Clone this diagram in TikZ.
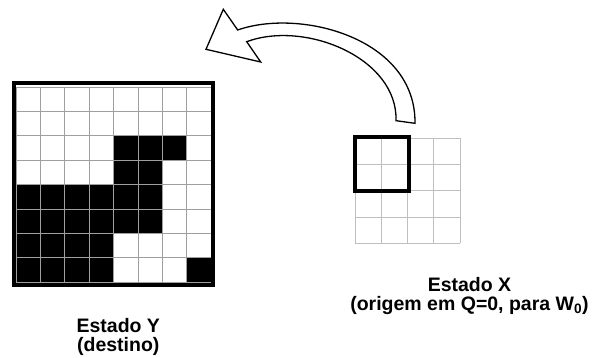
\documentclass[tikz,border=0pt]{standalone}
\usepackage{fontspec}
\setmainfont{Liberation Sans}
\usetikzlibrary{positioning}

\tikzset{
  cellY/.style={draw=gray!75,line width=0.9pt},
  cellX/.style={draw=gray!50,line width=0.9pt},
  frame/.style={draw=black,line width=4pt,inner sep=0pt},
  statetxt/.style={font=\bfseries\fontsize{19.5}{18.8}\selectfont,align=center,inner sep=0pt},
  bigarrow/.style={draw=black,fill=white,line width=1.3pt,line join=miter}
}

\begin{document}
\begin{tikzpicture}[x=1pt,y=-1pt]
\useasboundingbox (0,0) rectangle (592,358);

% Estado Y: 8x8
\foreach \c/\r in {4/2,5/2,6/2,4/3,5/3,0/4,1/4,2/4,3/4,4/4,5/4,0/5,1/5,2/5,3/5,4/5,5/5,0/6,1/6,2/6,3/6,0/7,1/7,2/7,3/7,7/7}
  \fill[black] ({16+24.4*\c},{87+24.4*\r}) rectangle +(24.4,24.4);
\foreach \i in {0,...,8} {
  \draw[cellY] ({16+24.4*\i},87) -- ({16+24.4*\i},282.2);
  \draw[cellY] (16,{87+24.4*\i}) -- (211.2,{87+24.4*\i});
}
\node[frame,minimum width=199pt,minimum height=202pt] (gridY) at (113.5,184) {};

% Estado X: 4x4
\foreach \i in {0,...,4} {
  \draw[cellX] ({355+26.25*\i},138.3) -- ({355+26.25*\i},243.3);
  \draw[cellX] (355,{138.3+26.25*\i}) -- (460,{138.3+26.25*\i});
}
\node[frame,minimum width=54pt,minimum height=54pt] (winX) at (381.6,164) {};

% seta
\coordinate (tip) at (206,49.3);
\coordinate (wingA) at (223.3,9.3);
\coordinate (wingB) at (260.7,62);
\coordinate (outA) at (237.7,30);
\coordinate (inA) at (246.7,41.7);
\coordinate (outB) at (415,123.3);
\coordinate (inB) at (396,120.7);
\draw[bigarrow] (tip) -- (wingA) -- (outA) .. controls (300,8) and (416,38) .. (outB)
  -- (inB) .. controls (398,58) and (305,20) .. (inA) -- (wingB) -- cycle;

% textos
\node[statetxt,anchor=north] (txtY) at (118.3,318.5) {Estado Y\\(destino)};
\node[statetxt,anchor=north] (txtX) at (469.5,277) {Estado X\\(origem em Q=0, para W\textsubscript{0})};
\end{tikzpicture}
\end{document}
